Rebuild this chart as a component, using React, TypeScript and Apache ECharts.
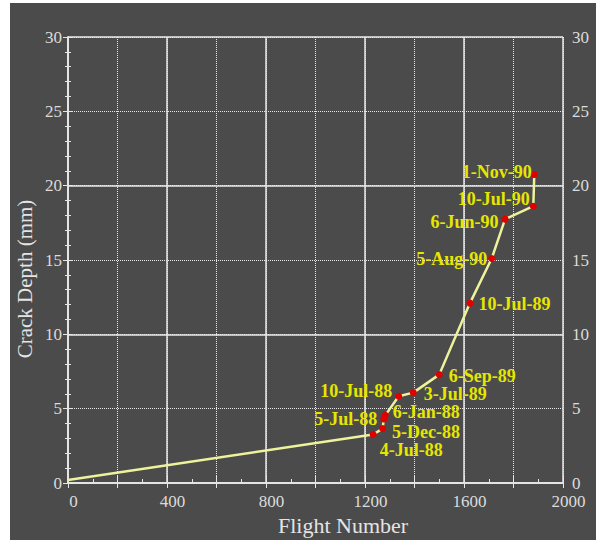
import React, { useEffect, useRef } from "react";
import * as echarts from "echarts";

const flights = [0, 1233, 1271, 1276, 1282, 1336, 1395, 1500, 1624, 1712, 1766, 1880, 1884];
const depths = [0.2, 3.26, 3.66, 4.3, 4.55, 5.83, 6.08, 7.29, 12.1, 15.1, 17.75, 18.62, 20.75];
const dates = ["", "4-Jul-88", "5-Dec-88", "5-Jul-88", "6-Jan-88", "10-Jul-88", "3-Jul-89", "6-Sep-89", "10-Jul-89", "5-Aug-90", "6-Jun-90", "10-Jul-90", "1-Nov-90"];
const xTicks = [0, 400, 800, 1200, 1600, 2000];
const yTicks = [0, 5, 10, 15, 20, 25, 30];

// label placement per point: [position, offsetX, offsetY]
const labelPlace: [string, number, number][] = [
  ["right", 0, 0],
  ["right", -2, 15],
  ["right", 1, 3],
  ["left", 2, 0],
  ["right", -1, -3],
  ["left", 2, -5],
  ["right", 2, 1],
  ["right", 1, 1],
  ["right", 0, 1],
  ["left", 4, 0],
  ["left", 2, 3],
  ["left", 5, -7],
  ["left", 6, -3],
];

const FONT = "'Liberation Serif', 'Times New Roman', serif";
const AX = "#e6e6e6";

export default function App() {
  const ref = useRef<HTMLDivElement>(null);
  useEffect(() => {
    document.body.style.margin = "0";
    const chart = echarts.init(ref.current!, null, { renderer: "svg" });
    const gridLine = (type: any, width: number) => ({
      show: true,
      lineStyle: { color: "#e8e8e8", type, width },
    });
    const data = flights.map((x, i) => {
      const [pos, ox, oy] = labelPlace[i];
      return {
        value: [x, depths[i]],
        symbol: i === 0 ? "none" : "circle",
        label: {
          show: i !== 0,
          formatter: dates[i],
          position: pos,
          offset: [ox, oy],
        },
      };
    });
    chart.setOption({
      animation: false,
      backgroundColor: "#4b4b4b",
      grid: { left: 58, right: 33, top: 34, bottom: 57 },
      xAxis: [
        {
          type: "value", min: 0, max: 2000, interval: 200, position: "bottom",
          axisLine: { show: true, lineStyle: { color: AX, width: 1.5 } },
          axisTick: { show: true, length: 5, lineStyle: { color: AX } },
          axisLabel: {
            color: "#dcdcdc", fontFamily: FONT, fontSize: 17, margin: 11,
            lineHeight: 14, padding: [0, 0, 0, 11],
            formatter: (v: number) => (xTicks.includes(v) ? String(v) : ""),
          },
          splitLine: gridLine("dotted", 1),
        },
        {
          type: "value", min: 0, max: 2000, interval: 200, position: "top",
          axisLine: { show: true, lineStyle: { color: AX, width: 1.5 } },
          axisTick: { show: true, length: 8, lineStyle: { color: AX } },
          minorTick: { show: true, splitNumber: 2, length: 4, lineStyle: { color: AX } },
          axisLabel: { show: false },
          splitLine: { show: false },
        },
        {
          type: "value", min: 0, max: 2000, interval: 400, position: "bottom",
          axisLine: { show: false }, axisTick: { show: false }, axisLabel: { show: false },
          splitLine: gridLine("solid", 1.5),
        },
      ],
      yAxis: [
        {
          type: "value", min: 0, max: 30, interval: 5, position: "left",
          axisLine: { show: true, lineStyle: { color: AX, width: 1.5 } },
          axisTick: { show: true, length: 5, lineStyle: { color: AX } },
          minorTick: { show: true, splitNumber: 5, length: 3, lineStyle: { color: AX } },
          axisLabel: {
            color: "#dcdcdc", fontFamily: FONT, fontSize: 17, margin: 6,
            lineHeight: 14, padding: [5, 0, 0, 0],
            formatter: (v: number) => (yTicks.includes(v) ? String(v) : ""),
          },
          splitLine: gridLine("dotted", 1),
        },
        {
          type: "value", min: 0, max: 30, interval: 5, position: "right",
          axisLine: { show: true, lineStyle: { color: AX, width: 1.5 } },
          axisTick: { show: true, length: 5, lineStyle: { color: AX } },
          minorTick: { show: true, splitNumber: 5, length: 3, lineStyle: { color: AX } },
          axisLabel: {
            color: "#dcdcdc", fontFamily: FONT, fontSize: 17, margin: 9,
            lineHeight: 14,
          },
          splitLine: { show: false },
        },
        {
          type: "value", min: 0, max: 30, interval: 10, position: "left",
          axisLine: { show: false }, axisTick: { show: false }, axisLabel: { show: false },
          splitLine: gridLine("solid", 1.5),
        },
      ],
      graphic: [
        {
          type: "text", x: 333, y: 522,
          style: {
            text: "Flight Number", fill: "#e4e4e4", font: `22px ${FONT}`,
            textAlign: "center", textVerticalAlign: "middle",
          },
        },
        {
          type: "text", x: 15, y: 276, rotation: Math.PI / 2,
          style: {
            text: "Crack Depth (mm)", fill: "#e4e4e4", font: `21px ${FONT}`,
            textAlign: "center", textVerticalAlign: "middle",
          },
        },
      ],
      series: [
        {
          type: "line",
          xAxisIndex: 0,
          yAxisIndex: 0,
          data,
          showAllSymbol: true,
          symbolSize: 7,
          z: 5,
          lineStyle: { color: "#eef29a", width: 2.5 },
          itemStyle: { color: "#e00000" },
          label: {
            color: "#e6e600", fontFamily: FONT, fontSize: 18, fontWeight: "bold",
            lineHeight: 14, distance: 5,
          },
        },
      ],
    });
    return () => chart.dispose();
  }, []);
  return (
    <div style={{ position: "relative", width: 596, height: 540, background: "#fff" }}>
      <div ref={ref} style={{ position: "absolute", left: 10, top: 3, width: 586, height: 537 }} />
    </div>
  );
}
